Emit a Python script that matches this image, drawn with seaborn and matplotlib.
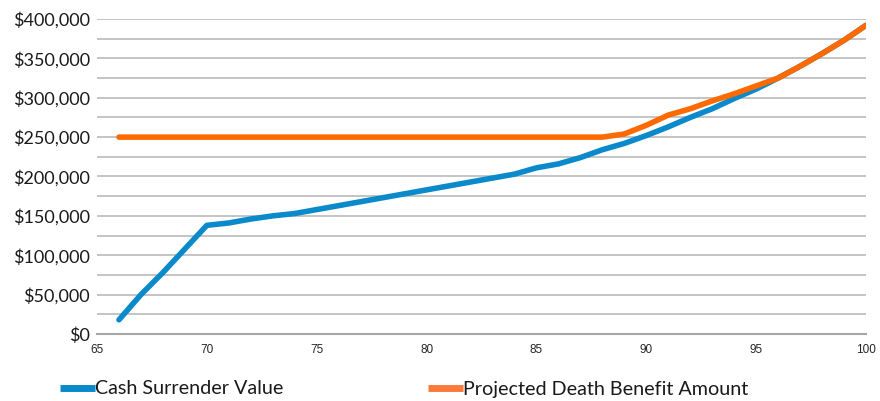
import numpy as np
import pandas as pd
import seaborn as sns
import matplotlib.pyplot as plt
from matplotlib.lines import Line2D
from matplotlib.ticker import FuncFormatter, MultipleLocator

ages = list(range(66, 101))
cash_value = [18000, 50000, 78000, 108000, 138000, 141000, 146000, 150000, 153000, 158000,
              163000, 168000, 173000, 178000, 183000, 188000, 193000, 198000, 203000, 211000,
              216000, 224000, 234000, 242000, 252000, 263000, 275000, 286000, 299000, 311000,
              325000, 340000, 356000, 373000, 392000]
death_benefit = [250000] * 23 + [254000, 265000, 278000, 286000, 296000, 305000, 315000,
                                 325000, 340000, 356000, 373000, 392000]
series_names = ['Cash Surrender Value', 'Projected Death Benefit Amount']
colors = ['#0A8ACB', '#FF6A00']
legend_colors = ['#0A8ACB', '#FF7A3A']

df = pd.concat([
    pd.DataFrame({'age': ages, 'value': cash_value, 'series': series_names[0]}),
    pd.DataFrame({'age': ages, 'value': death_benefit, 'series': series_names[1]}),
])

sns.set_style('white')
plt.rcParams['font.family'] = ['Lato', 'DejaVu Sans']

fig = plt.figure(figsize=(8.8, 4.01), dpi=100)
ax = fig.add_axes([97 / 880, 1 - 334 / 401, (866 - 97) / 880, (334 - 19) / 401])

sns.lineplot(data=df, x='age', y='value', hue='series', palette=colors,
             linewidth=4, ax=ax, legend=False, solid_capstyle='round')

ax.set_xlim(65, 100)
ax.set_ylim(0, 400000)
ax.yaxis.set_major_locator(MultipleLocator(50000))
ax.yaxis.set_minor_locator(MultipleLocator(25000))
ax.xaxis.set_major_locator(MultipleLocator(5))
ax.yaxis.set_major_formatter(FuncFormatter(lambda v, p: f'${v:,.0f}'))
ax.grid(True, which='both', axis='y', color='#BFBFBF', linewidth=1.3)
ax.set_axisbelow(True)
for s in ['top', 'right', 'left']:
    ax.spines[s].set_visible(False)
ax.spines['bottom'].set_color('#A6A6A6')
ax.spines['bottom'].set_linewidth(1.5)
ax.set_xlabel('')
ax.set_ylabel('')
ax.tick_params(axis='y', length=0, labelsize=13, pad=5, colors='#1a1a1a')
ax.tick_params(axis='x', length=0, labelsize=8.5, pad=7)
for lbl in ax.get_xticklabels():
    lbl.set_family('Liberation Sans')

# legend entries placed one by one along the bottom
for name, c, x0 in zip(series_names, legend_colors, [60, 428]):
    h = Line2D([], [], color=c, linewidth=5, solid_capstyle='butt')
    fig.legend([h], [name], loc='center left', bbox_to_anchor=(x0 / 880, 1 - 389 / 401),
               frameon=False, fontsize=14.2, handlelength=1.75, handletextpad=0.0,
               borderaxespad=0, borderpad=0, labelcolor='#1a1a1a')

fig.savefig('out.png', dpi=100)
